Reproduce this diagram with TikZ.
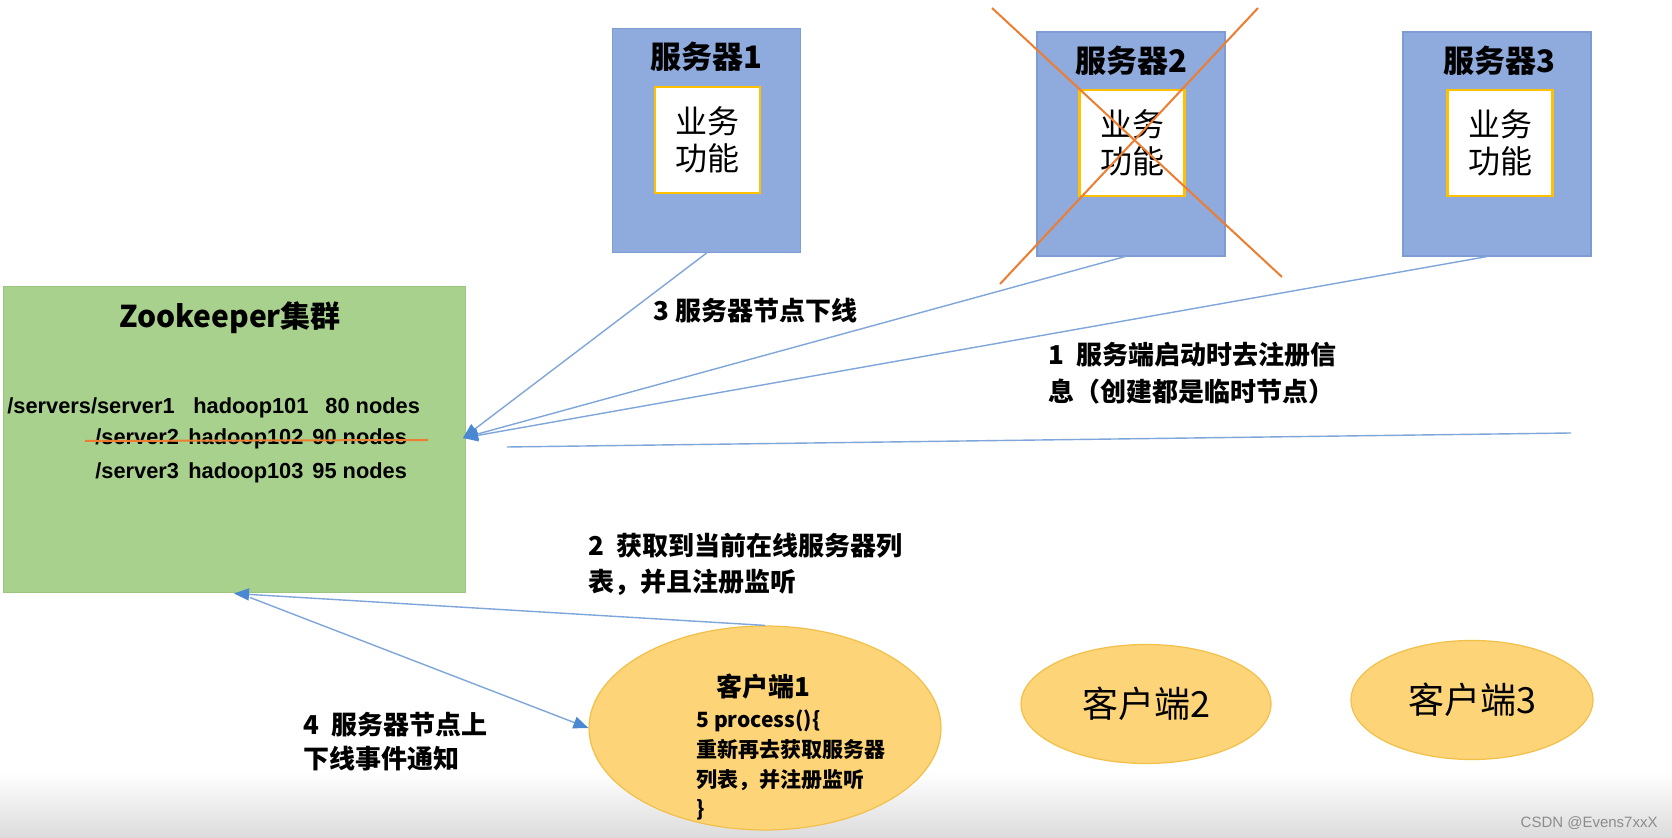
\documentclass[tikz,border=0pt]{standalone}
\usepackage{fontspec}
\setmainfont{Noto Sans CJK SC}
\newfontfamily\latinfont{Liberation Sans}
\newfontfamily\wmfont{Liberation Sans}
\usetikzlibrary{arrows.meta,shapes.geometric,calc}
\definecolor{zkgreen}{HTML}{A9D18E}
\definecolor{zkborder}{HTML}{9CC57F}
\definecolor{srvblue}{HTML}{8FAADC}
\definecolor{srvborder}{HTML}{7E9BD4}
\definecolor{goldline}{HTML}{FFC000}
\definecolor{cfill}{HTML}{FDD477}
\definecolor{cborder}{HTML}{F2C049}
\definecolor{xorange}{HTML}{ED7D31}
\definecolor{lineblue}{HTML}{7FA6DA}
\definecolor{tipblue}{HTML}{4A88D4}
\begin{document}
\begin{tikzpicture}[x=0.5pt,y=-0.5pt,
  zkbox/.style={draw=zkborder, fill=zkgreen, minimum width=231pt, minimum height=153pt, inner sep=0, line width=0.5pt},
  server/.style={draw=srvborder, fill=srvblue, minimum width=94pt, minimum height=112pt, inner sep=0, line width=0.6pt},
  func/.style={draw=goldline, fill=white, line width=1.1pt, minimum width=52.5pt, minimum height=53pt, inner sep=0, align=center, font=\fontsize{16}{18.5}\selectfont},
  stitle/.style={font=\bfseries\fontsize{15.5}{18}\selectfont, inner sep=0},
  client/.style={ellipse, draw=cborder, fill=cfill, line width=0.6pt, inner sep=0},
  lbl/.style={font=\bfseries\fontsize{13}{18}\selectfont, inner sep=0, anchor=west, align=left},
  zkrow/.style={font=\latinfont\bfseries\fontsize{10.9}{12}\selectfont, inner sep=0, anchor=base west},
  cline/.style={font=\bfseries\fontsize{10.5}{15}\selectfont, inner sep=0, anchor=base west},
  conn/.style={draw=lineblue, line width=0.7pt},
  arr/.style={conn, -{Triangle[length=7.5pt,width=6pt,fill=tipblue,color=tipblue]}},
  xline/.style={draw=xorange, line width=1pt},
]
\useasboundingbox (0,0) rectangle (1672,838);
\fill[white] (0,0) rectangle (1672,838);
\shade[top color=white, bottom color=black!14] (0,772) rectangle (1672,838);

% Zookeeper cluster
\node[zkbox] (zk) at (234,440) {};
\node[font=\bfseries\fontsize{15}{18}\selectfont, inner sep=0] (zkt) at (230,318) {Zookeeper集群};
\node[zkrow] (r1a) at (7,414) {/servers/server1};
\node[zkrow] (r1b) at (193,414) {hadoop101};
\node[zkrow] (r1c) at (325,414) {80 nodes};
\node[zkrow] (r2a) at (95,445) {/server2};
\node[zkrow] (r2b) at (188,445) {hadoop102};
\node[zkrow] (r2c) at (312,445) {90 nodes};
\node[zkrow] (r3a) at (95,479) {/server3};
\node[zkrow] (r3b) at (188,479) {hadoop103};
\node[zkrow] (r3c) at (312,479) {95 nodes};
\coordinate (st1) at (85,441);
\coordinate (st2) at (428,440);
\draw[xline] (st1) -- (st2);

% servers
\node[server] (s1) at (706.5,140.5) {};
\node[stitle] (s1t) at (706,57) {服务器1};
\node[func] (f1) at (707.5,140) {业务\\功能};
\node[server] (s2) at (1131,144) {};
\node[stitle] (s2t) at (1131,61) {服务器2};
\node[func] (f2) at (1132,143) {业务\\功能};
\node[server] (s3) at (1497,144) {};
\node[stitle] (s3t) at (1499,61) {服务器3};
\node[func] (f3) at (1500,143) {业务\\功能};

% cross over server 2
\coordinate (xa1) at (992,8);
\coordinate (xa2) at (1282,277);
\coordinate (xb1) at (1258,8);
\coordinate (xb2) at (1000,284);
\draw[xline] (xa1) -- (xa2);
\draw[xline] (xb1) -- (xb2);

% clients
\node[client, minimum width=176pt, minimum height=102pt] (c1) at (765,728) {};
\node[font=\bfseries\fontsize{13}{15}\selectfont, inner sep=0] (c1t) at (763,687) {客户端1};
\node[cline] (c1l1) at (696,728) {5 process()\{};
\node[cline] (c1l2) at (696,758) {重新再去获取服务器};
\node[cline] (c1l3) at (696,788) {列表，并注册监听};
\node[cline] (c1l4) at (696,817) {\}};
\node[client, minimum width=125pt, minimum height=59.5pt, font=\fontsize{18}{20}\selectfont] (c2) at (1146,704) {客户端2};
\node[client, minimum width=121pt, minimum height=59.5pt, font=\fontsize{18}{20}\selectfont] (c3) at (1472,700) {客户端3};

% labels
\node[lbl] (l3) at (653,311) {3 服务器节点下线};
\node[lbl, font=\bfseries\fontsize{13}{18.5}\selectfont] (l1) at (1048,373.5) {1\ \ 服务端启动时去注册信\\息（创建都是临时节点）};
\node[lbl] (l2) at (588,564) {2\ \ 获取到当前在线服务器列\\表，并且注册监听};
\node[lbl, font=\bfseries\fontsize{13}{17}\selectfont] (l4) at (303,741.5) {4\ \ 服务器节点上\\下线事件通知};

% connectors
\coordinate (zin) at (463,438);
\draw[arr] (s1.south) -- (zin);
\draw[arr] ([xshift=-3pt]s2.south) -- (zin);
\draw[arr] ([xshift=-5pt]s3.south) -- (zin);
\coordinate (la) at (1571,433);
\coordinate (lb) at (507,447);
\draw[conn] (la) -- (lb);
\draw[arr] (c1.north) -- (zk.south);
\draw[arr] ([xshift=8pt,yshift=-2pt]zk.south) -- (c1.west);

% watermark
\node[font=\wmfont\fontsize{7.5}{9}\selectfont, text=black!45, anchor=east, inner sep=0] (wm) at (1658,823) {CSDN @Evens7xxX};
\end{tikzpicture}
\end{document}
